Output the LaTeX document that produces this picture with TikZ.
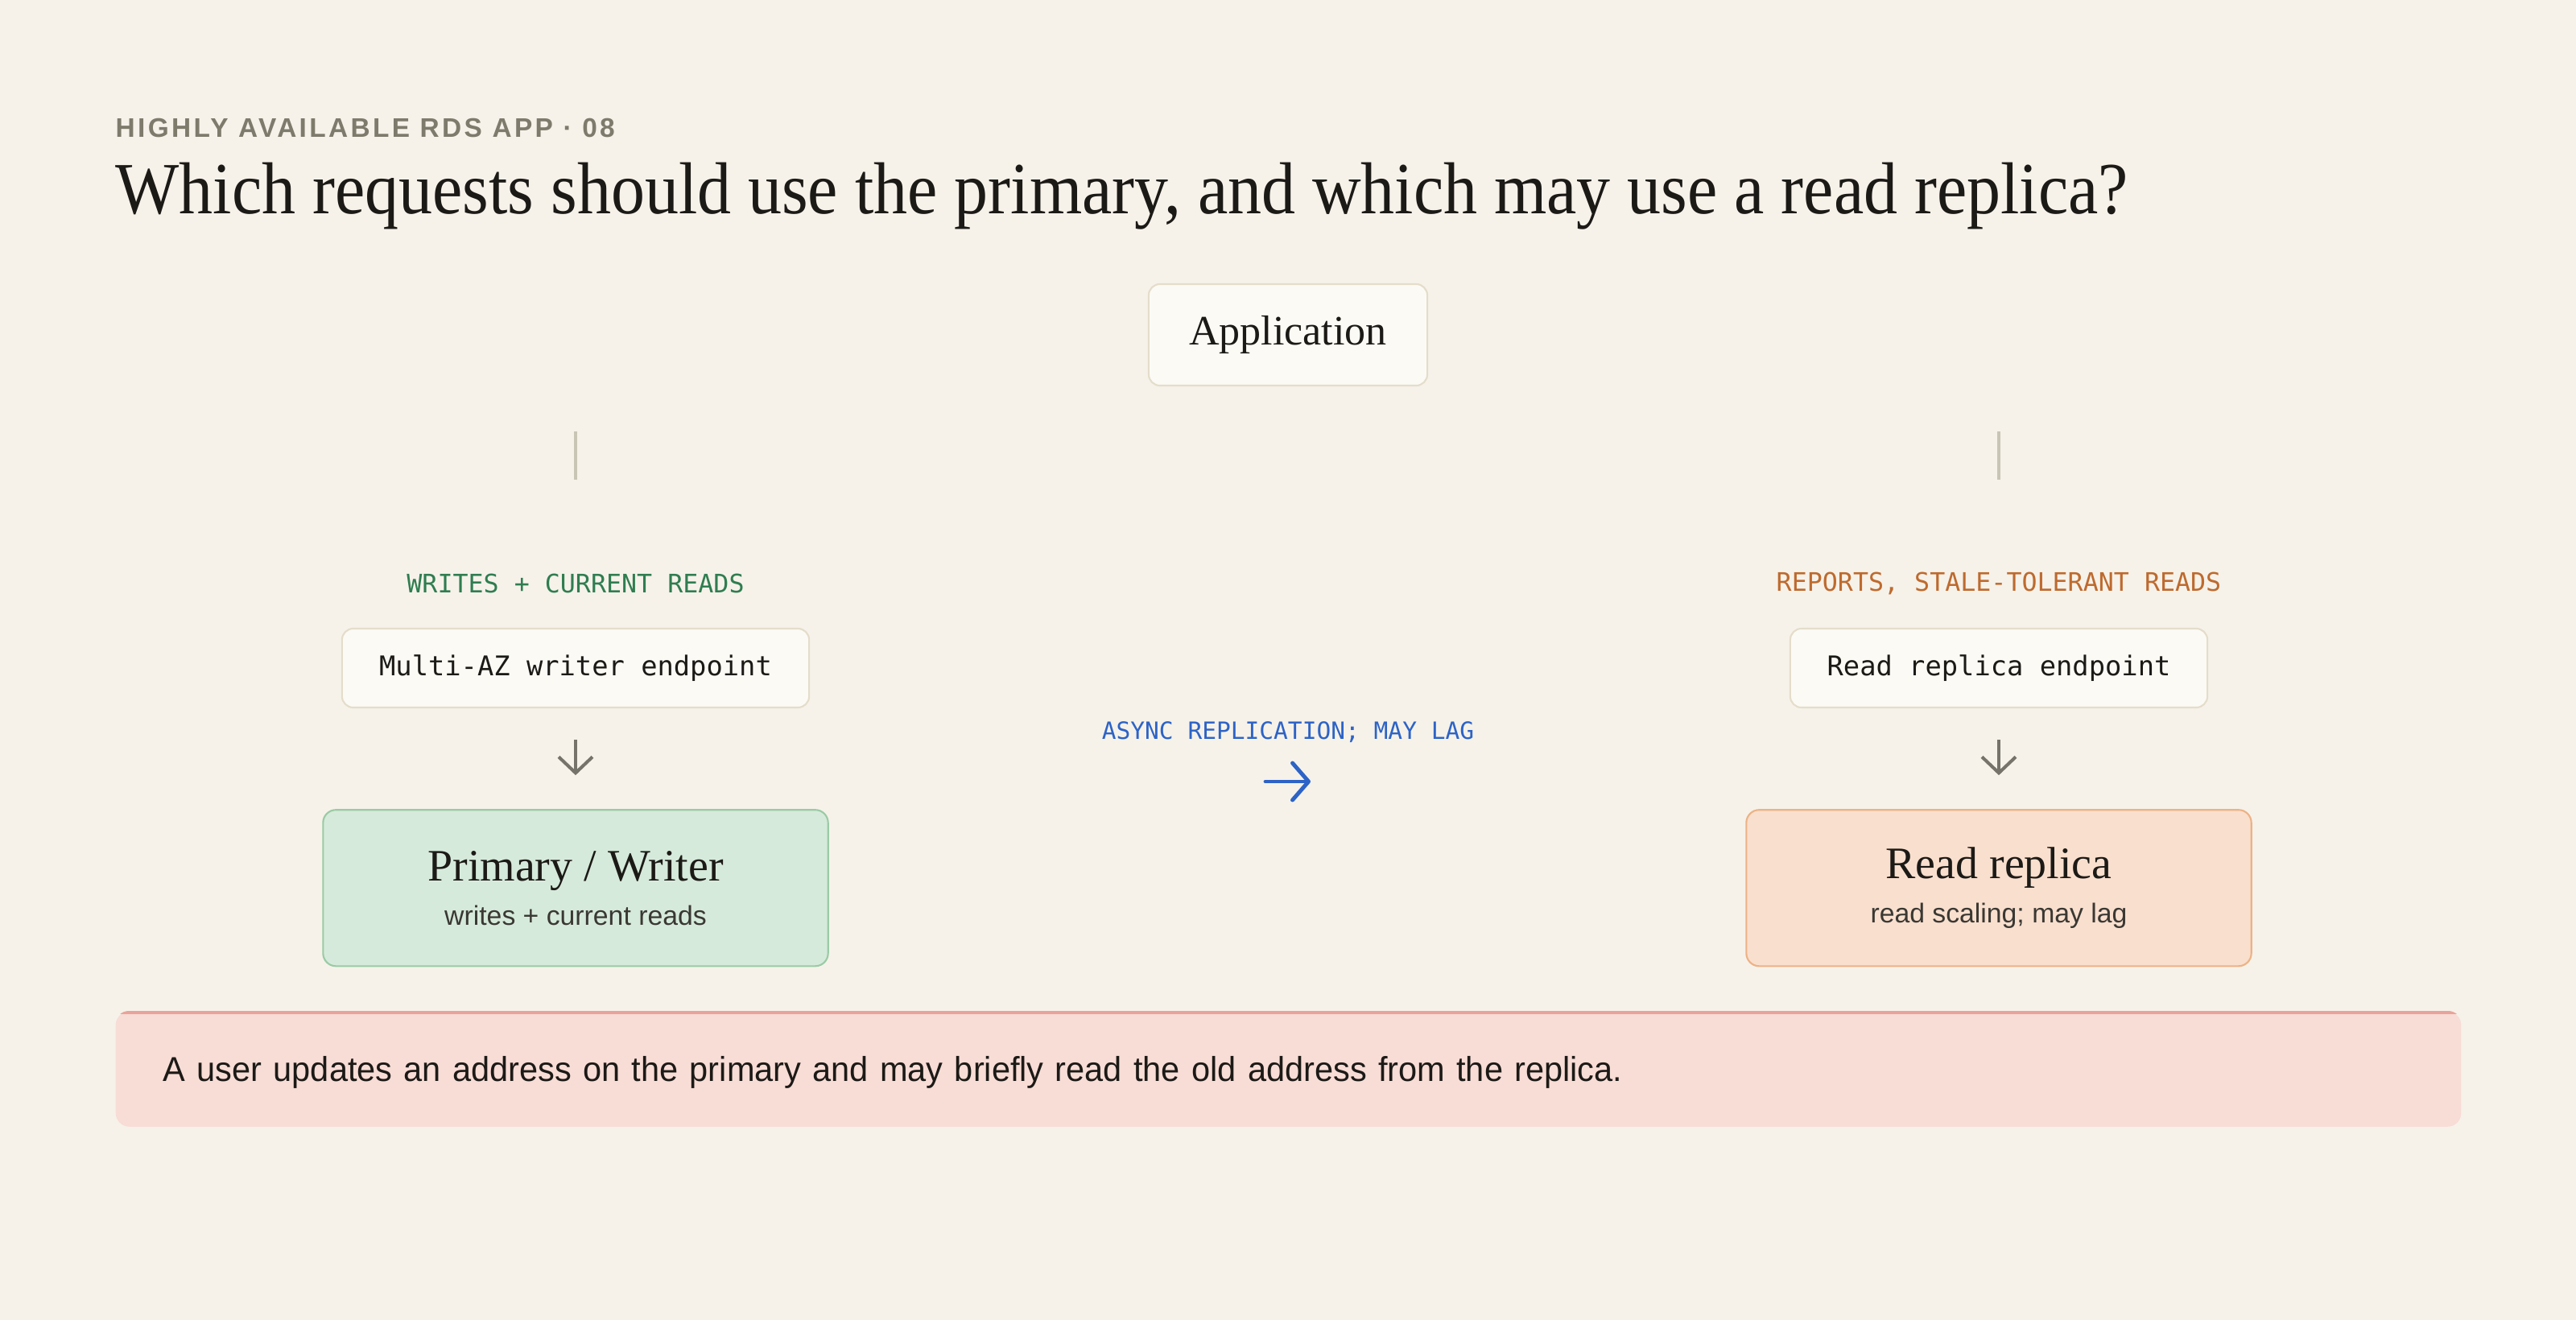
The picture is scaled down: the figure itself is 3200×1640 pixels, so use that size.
\documentclass[tikz,border=0pt]{standalone}
\usepackage{fontspec}
\setmainfont{Liberation Serif}
\setsansfont{Liberation Sans}
\setmonofont{DejaVu Sans Mono}
\newfontfamily\kickerfont[LetterSpace=10]{Liberation Sans}
\newfontfamily\headfont[FakeStretch=0.918]{Liberation Serif}
\newfontfamily\notefont[FakeStretch=0.968]{Liberation Sans}
\usetikzlibrary{positioning,arrows.meta}
\definecolor{bg}{HTML}{F6F2EA}
\definecolor{ink}{HTML}{1C1A16}
\definecolor{kickgrey}{HTML}{7E7B6C}
\definecolor{cardfill}{HTML}{FBFAF5}
\definecolor{cardline}{HTML}{E4DDCA}
\definecolor{tickline}{HTML}{C9C5B5}
\definecolor{wgreen}{HTML}{2F7D50}
\definecolor{rorange}{HTML}{BE6A2E}
\definecolor{lagblue}{HTML}{2D63C6}
\definecolor{arrgrey}{HTML}{75736A}
\definecolor{prifill}{HTML}{D6EADB}
\definecolor{priline}{HTML}{9ACBA5}
\definecolor{repfill}{HTML}{F9DFCE}
\definecolor{repline}{HTML}{EDB285}
\definecolor{notefill}{HTML}{F8DCD6}
\definecolor{noteline}{HTML}{E9A39A}
\definecolor{subgrey}{HTML}{3A3833}
\newcommand{\dbsub}[1]{{\sffamily\fontsize{9.6pt}{11pt}\selectfont\color{subgrey}#1}}

\begin{document}
\begin{tikzpicture}[x=0.01cm,y=-0.01cm,
    card/.style={draw=cardline,fill=cardfill,line width=0.6pt,rounded corners=0.14cm,inner sep=0pt,text=ink},
    endpoint/.style={card,minimum height=0.98cm,font=\ttfamily\fontsize{9.6pt}{11pt}\selectfont},
    tag/.style={inner sep=0pt,font=\ttfamily\fontsize{9pt}{11pt}\selectfont},
    dbbox/.style={line width=0.6pt,rounded corners=0.16cm,minimum width=6.27cm,minimum height=1.94cm,inner sep=0pt,align=center,text=ink,font=\rmfamily\fontsize{15.9pt}{15.6pt}\selectfont},
    tick/.style={draw=tickline,line width=1pt},
    darr/.style={draw=arrgrey,line width=1.15pt,-{Straight Barb[length=0.2cm,width=0.42cm]},shorten <=0.39cm,shorten >=0.42cm},
    lagarr/.style={draw=lagblue,line width=1.4pt,line cap=round,-{Straight Barb[length=0.2cm,width=0.46cm,round]}}]
    \fill[bg] (0,0) rectangle (3200,1640);
    \node[anchor=base west,inner sep=0pt,text=kickgrey,font=\kickerfont\bfseries\fontsize{9.5pt}{11pt}\selectfont] (kick) at (143,171) {HIGHLY AVAILABLE RDS APP · 08};
    \node[anchor=base west,inner sep=0pt,text=ink,font=\headfont\fontsize{26pt}{30pt}\selectfont] (head) at (143,266) {Which requests should use the primary, and which may use a read replica?};
    \node[card,minimum width=3.46cm,minimum height=1.26cm,font=\rmfamily\fontsize{14.8pt}{16pt}\selectfont] (app) at (1600,416) {Application};
    \coordinate (wtop) at (715,536);
    \coordinate (wbot) at (715,596);
    \coordinate (rtop) at (2483,536);
    \coordinate (rbot) at (2483,596);
    \draw[tick] (wtop) -- (wbot);
    \draw[tick] (rtop) -- (rbot);
    \node[tag,text=wgreen] (wtag) at (715,725) {WRITES + CURRENT READS};
    \node[tag,text=rorange] (rtag) at (2483,725) {REPORTS, STALE-TOLERANT READS};
    \node[endpoint,minimum width=5.8cm] (wend) at (715,830) {Multi-AZ writer endpoint};
    \node[endpoint,minimum width=5.18cm] (rend) at (2483,830) {Read replica endpoint};
    \node[dbbox,draw=priline,fill=prifill,below=1.25cm of wend] (primary) {Primary / Writer\\\dbsub{writes + current reads}};
    \node[dbbox,draw=repline,fill=repfill,below=1.25cm of rend] (replica) {Read replica\\\dbsub{read scaling; may lag}};
    \draw[darr] (wend) -- (primary);
    \draw[darr] (rend) -- (replica);
    \node[tag,text=lagblue,font=\ttfamily\fontsize{8.4pt}{10pt}\selectfont] (lag) at (1600,910) {ASYNC REPLICATION; MAY LAG};
    \coordinate (lagA) at (1572,971);
    \coordinate (lagB) at (1628,971);
    \draw[lagarr] (lagA) -- (lagB);
    \node[anchor=north west,fill=notefill,rounded corners=0.17cm,text width=27.94cm,inner xsep=0.59cm,minimum height=1.43cm,text depth=0pt,align=left,text=ink,font=\notefont\fontsize{12.2pt}{14pt}\selectfont] (note) at (143,1256) {A user updates an address on the primary and may briefly read the old address from the replica.};
    \begin{scope}
        \clip[rounded corners=0.17cm] (note.north west) rectangle (note.south east);
        \fill[noteline] (note.north west) rectangle ([yshift=-0.04cm]note.north east);
    \end{scope}
\end{tikzpicture}
\end{document}
